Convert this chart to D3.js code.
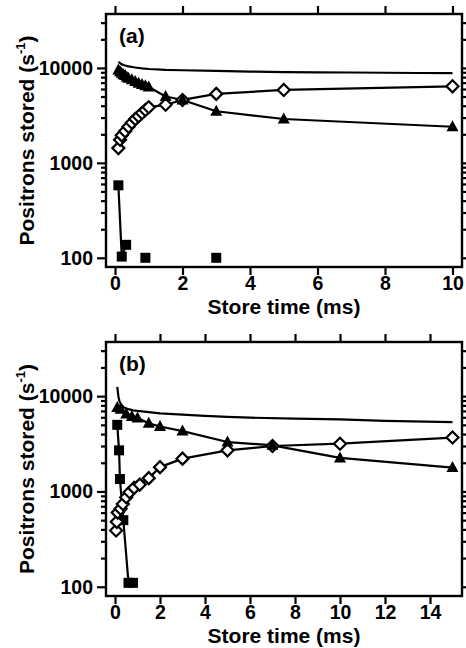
<!DOCTYPE html>
<html><head><meta charset="utf-8">
<script src="https://cdn.jsdelivr.net/npm/d3@7"></script>
<style>
body{margin:0;background:#fff}
text{font-family:"Liberation Sans",Arial,Helvetica,sans-serif;font-weight:bold;fill:#000}
</style>
</head><body>
<svg id="c" width="466" height="648"></svg>
<script>
// ---------- DATA: panel (a) ----------
const aCurveT = [0.1,0.2,0.3,0.4,0.6,0.8,1.0,1.5,2,3,4,5,6,7,8,9,10];
const aCurveV = [11600,10900,10600,10400,10100,9900,9750,9550,9450,9300,9150,9050,9000,8950,8900,8850,8800];
const aTriT = [0.1,0.15,0.2,0.25,0.3,0.35,0.4,0.5,0.6,0.7,0.8,0.9,1.0,1.5,2,3,5,10];
const aTriV = [9500,9100,8800,8500,8300,8000,7800,7500,7200,6900,6700,6500,6300,5000,4600,3500,2900,2400];
const aDiaT = [0.1,0.15,0.2,0.3,0.4,0.5,0.6,0.7,0.8,0.9,1.0,1.5,2,3,5,10];
const aDiaV = [1430,1750,1950,2150,2400,2650,2900,3100,3350,3600,3850,4100,4600,5330,5870,6400];
const aSqT = [0.1,0.2,0.33,0.9,3.0];
const aSqV = [580,103,137,100,100];
const aSqLineN = 3; // squares joined by the line
// ---------- DATA: panel (b) ----------
const bCurveT = [0.1,0.15,0.2,0.3,0.4,0.6,0.8,1.0,1.5,2,3,4,5,6,8,10,12,15];
const bCurveV = [12500,10000,8800,8000,7600,7300,7100,7000,6800,6600,6400,6200,6050,5950,5800,5700,5500,5350];
const bTriT = [0.1,0.25,0.5,0.75,1.0,1.5,2,3,5,7,10,15];
const bTriV = [7600,7300,6500,6100,5900,5200,4800,4300,3300,3050,2250,1780];
const bDiaT = [0.05,0.08,0.12,0.25,0.35,0.5,0.65,0.85,1.1,1.5,2,3,5,7,10,15];
const bDiaV = [390,480,600,660,740,870,980,1090,1180,1380,1800,2210,2700,3000,3170,3680];
const bSqT = [0.1,0.18,0.22,0.37,0.6,0.8];
const bSqV = [5000,2700,1350,500,110,110];
const bSqLineN = 6;
// ---------- TICKS / LABELS ----------
const aXTicks = [0,2,4,6,8,10];
const bXTicks = [0,2,4,6,8,10,12,14];
const yMajor = [100,1000,10000];
const yMinor = [200,300,400,500,600,700,800,900,2000,3000,4000,5000,6000,7000,8000,9000,20000,30000];
const yDomain = [80,37000];
const xLabel = "Store time (ms)";
const yLabel = "Positrons stored (s";
const yLabelSup = "-1";

const svg = d3.select("#c");
const FS = 19.5;
const TS = 21;

function panel(cfg){
  const {top,bottom,left,right,xMax,xTicks,tag,curve,tri,dia,sq,sqN} = cfg;
  const x = d3.scaleLinear().domain([0,xMax]).range([left+9,right-9.5]);
  const y = d3.scaleLog().domain(yDomain).range([bottom,top]);
  const g = svg.append("g");

  const styleAxis = sel => { sel.select(".domain").remove(); sel.selectAll("line").attr("stroke","#000").attr("stroke-width",2.2); sel.selectAll("text").attr("font-size",FS).style("font-family",'"Liberation Sans",Arial,sans-serif').style("font-weight","bold"); };

  // x axes
  g.append("g").attr("transform",`translate(0,${bottom})`)
    .call(d3.axisBottom(x).tickValues(xTicks).tickSize(8).tickPadding(1).tickFormat(d3.format("d")))
    .call(styleAxis);
  g.append("g").attr("transform",`translate(0,${top})`)
    .call(d3.axisTop(x).tickValues(xTicks).tickSize(8).tickFormat(""))
    .call(styleAxis);
  // y axes
  g.append("g").attr("transform",`translate(${left},0)`)
    .call(d3.axisLeft(y).tickValues(yMajor).tickSize(9).tickPadding(4).tickFormat(d3.format("d")))
    .call(styleAxis);
  g.append("g").attr("transform",`translate(${left},0)`)
    .call(d3.axisLeft(y).tickValues(yMinor).tickSize(5).tickFormat(""))
    .call(styleAxis);
  g.append("g").attr("transform",`translate(${right},0)`)
    .call(d3.axisRight(y).tickValues(yMajor).tickSize(9).tickFormat(""))
    .call(styleAxis);
  g.append("g").attr("transform",`translate(${right},0)`)
    .call(d3.axisRight(y).tickValues(yMinor).tickSize(5).tickFormat(""))
    .call(styleAxis);

  // frame
  g.append("rect").attr("x",left).attr("y",top).attr("width",right-left).attr("height",bottom-top)
    .attr("fill","none").attr("stroke","#000").attr("stroke-width",2.4);

  const line = d3.line().x(d=>x(d[0])).y(d=>y(d[1]));
  const zip = (t,v)=>t.map((d,i)=>[d,v[i]]);
  const cData = zip(curve[0],curve[1]), tData = zip(tri[0],tri[1]), dData = zip(dia[0],dia[1]), sData = zip(sq[0],sq[1]);

  [cData,tData,dData,sData.slice(0,sqN)].forEach(d=>{
    g.append("path").datum(d).attr("d",line).attr("fill","none").attr("stroke","#000").attr("stroke-width",2.2).attr("stroke-linejoin","round");
  });

  g.selectAll(null).data(sData).enter().append("rect")
    .attr("x",d=>x(d[0])-5).attr("y",d=>y(d[1])-5).attr("width",10).attr("height",10).attr("fill","#000");
  g.selectAll(null).data(dData).enter().append("path")
    .attr("transform",d=>`translate(${x(d[0])},${y(d[1])})`)
    .attr("d","M0,-6L6,0L0,6L-6,0Z").attr("fill","#fff").attr("stroke","#000").attr("stroke-width",2.2);
  g.selectAll(null).data(tData).enter().append("path")
    .attr("transform",d=>`translate(${x(d[0])},${y(d[1])})`)
    .attr("d","M0,-6.5L6,4.5L-6,4.5Z").attr("fill","#000");

  // labels
  g.append("text").attr("x",left+13).attr("y",top+29).attr("font-size",TS).text(tag);
  g.append("text").attr("x",(left+right)/2).attr("y",bottom+47).attr("text-anchor","middle").attr("font-size",TS).text(xLabel);
  const yl = g.append("text").attr("transform",`translate(34,${(top+bottom)/2}) rotate(-90)`).attr("text-anchor","middle").attr("font-size",TS);
  yl.append("tspan").text(yLabel);
  yl.append("tspan").attr("font-size",13).attr("dy",-9).text(yLabelSup);
  yl.append("tspan").attr("dy",9).text(")");
}

panel({top:14,bottom:267,left:106,right:462,xMax:10,xTicks:aXTicks,tag:"(a)",
  curve:[aCurveT,aCurveV],tri:[aTriT,aTriV],dia:[aDiaT,aDiaV],sq:[aSqT,aSqV],sqN:aSqLineN});
panel({top:342,bottom:596,left:106,right:462,xMax:15,xTicks:bXTicks,tag:"(b)",
  curve:[bCurveT,bCurveV],tri:[bTriT,bTriV],dia:[bDiaT,bDiaV],sq:[bSqT,bSqV],sqN:bSqLineN});
</script>
</body></html>
